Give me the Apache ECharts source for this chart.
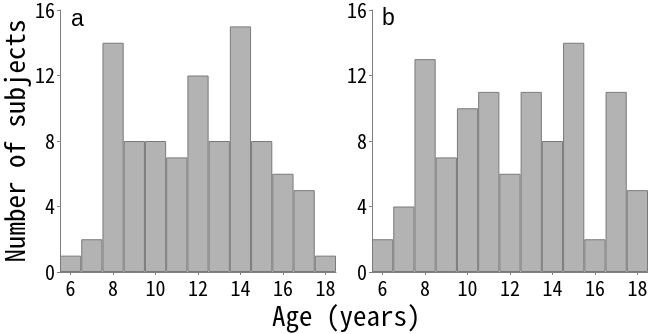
<!DOCTYPE html>
<html>
<head>
<meta charset="utf-8">
<script src="https://cdn.jsdelivr.net/npm/echarts@6/dist/echarts.min.js"></script>
<style>
html,body{margin:0;padding:0;background:#fff;}
#chart{width:648px;height:334px;}
</style>
</head>
<body>
<div id="chart"></div>
<script>
var ages = ['6','7','8','9','10','11','12','13','14','15','16','17','18'];
var countsA = [1, 2, 14, 8, 8, 7, 12, 8, 15, 8, 6, 5, 1];
var countsB = [2, 4, 13, 7, 10, 11, 6, 11, 8, 14, 2, 11, 5];
var yTicks = [0, 4, 8, 12, 16];

var FONT = '"Noto Sans Mono CJK JP", "Noto Sans CJK JP", "Noto Sans", sans-serif';
var LFONT = '"Liberation Sans", Arial, sans-serif';
var axisColor = '#808080';

function evenOnly(idx, val) { return parseInt(val, 10) % 2 === 0; }

function xAxisCfg(gi) {
  return {
    type: 'category', gridIndex: gi, data: ages, boundaryGap: true,
    axisLine: { show: true, lineStyle: { color: axisColor, width: 1 } },
    axisTick: { show: true, alignWithLabel: true, interval: evenOnly, length: 3, lineStyle: { color: axisColor } },
    axisLabel: { interval: evenOnly, color: '#000', fontSize: 20, fontFamily: FONT, margin: 6 }
  };
}
function yAxisCfg(gi) {
  return {
    type: 'value', gridIndex: gi, min: yTicks[0], max: yTicks[yTicks.length - 1], interval: 4,
    axisLine: { show: true, lineStyle: { color: axisColor, width: 1 } },
    axisTick: { show: true, length: 3, lineStyle: { color: axisColor } },
    splitLine: { show: false },
    axisLabel: { color: '#000', fontSize: 20, fontFamily: FONT, margin: 5 }
  };
}
function barSeries(gi, data) {
  return {
    type: 'bar', xAxisIndex: gi, yAxisIndex: gi, data: data,
    barWidth: '100%', barCategoryGap: '0%',
    itemStyle: { color: '#b3b3b3', borderColor: '#7a7a7a', borderWidth: 1 },
    silent: true
  };
}

var chart = echarts.init(document.getElementById('chart'));
chart.setOption({
  animation: false,
  backgroundColor: '#fff',
  grid: [
    { left: 60, top: 10, width: 276, height: 262, containLabel: false, outerBoundsMode: 'none' },
    { left: 372, top: 10, width: 276, height: 262, containLabel: false, outerBoundsMode: 'none' }
  ],
  xAxis: [xAxisCfg(0), xAxisCfg(1)],
  yAxis: [yAxisCfg(0), yAxisCfg(1)],
  series: [barSeries(0, countsA), barSeries(1, countsB)],
  graphic: [
    { type: 'text', x: 71, y: 8, style: { text: 'a', font: '23px ' + LFONT, fill: '#000', align: 'left', verticalAlign: 'top' } },
    { type: 'text', x: 382, y: 7, style: { text: 'b', font: '23px ' + LFONT, fill: '#000', align: 'left', verticalAlign: 'top' } },
    { type: 'text', x: 272, y: 302, style: { text: 'Age (years)', font: '27px ' + FONT, fill: '#000', align: 'left', verticalAlign: 'top' } },
    { type: 'text', x: 15, y: 141, rotation: Math.PI / 2, style: { text: 'Number of subjects', font: '27px ' + FONT, fill: '#000', align: 'center', verticalAlign: 'middle' } }
  ]
});
</script>
</body>
</html>
